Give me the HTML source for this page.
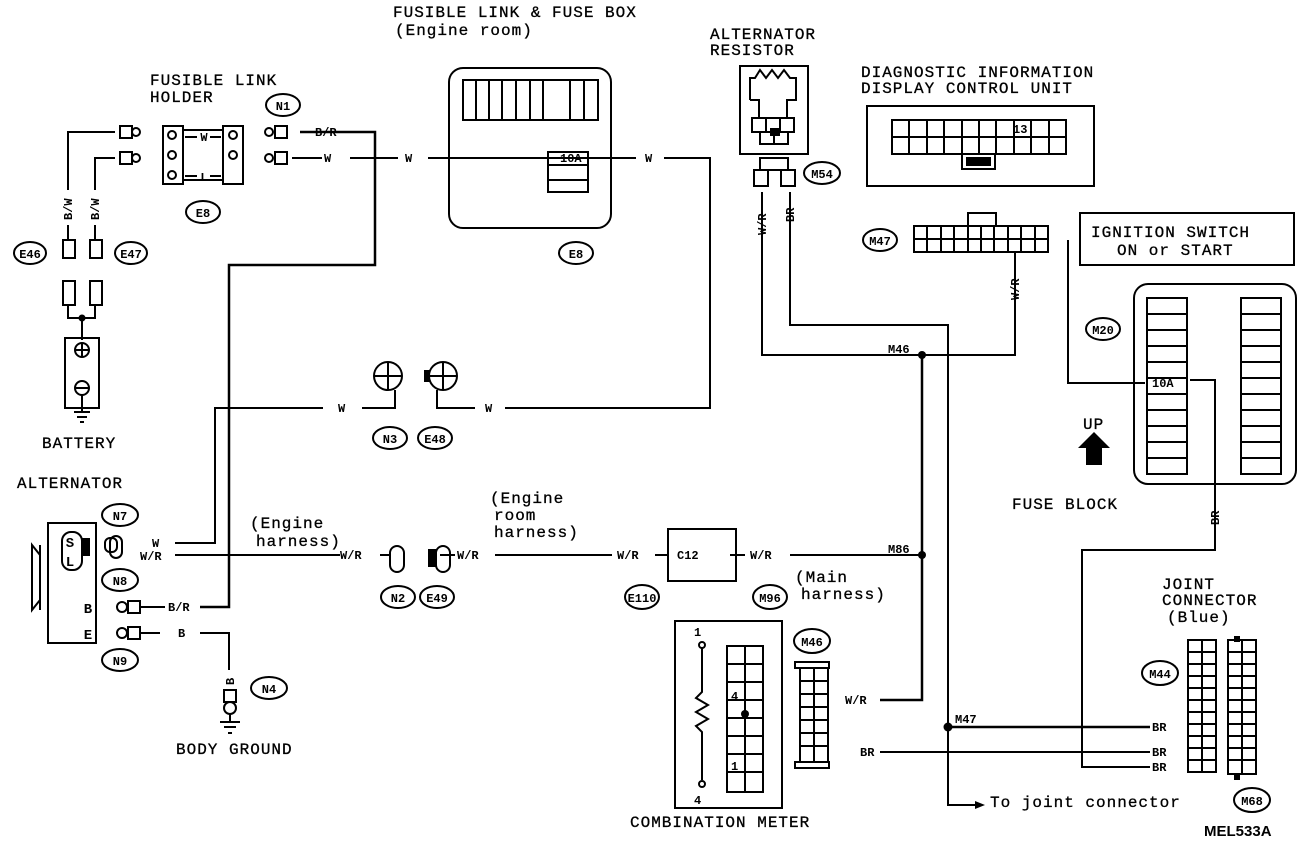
<!DOCTYPE html>
<html><head><meta charset="utf-8"><style>
html,body{margin:0;padding:0;background:#fff}
svg{display:block}
text{font-family:"Liberation Mono",monospace;fill:#000}
.t{font-size:16px;letter-spacing:1px;stroke:#000;stroke-width:0.3}
.l{font-size:12px;font-weight:bold}
.g{font-size:12px;font-weight:bold;font-family:"Liberation Sans",sans-serif}
</style></head><body>
<svg width="1312" height="842" viewBox="0 0 1312 842" xmlns="http://www.w3.org/2000/svg">
<g fill="none" stroke="#000" stroke-width="2">
<polyline points="300,132 375,132 375,265 229,265 229,607 200,607" stroke-width="2.5"/>
<polyline points="292,158 322,158"/><polyline points="350,158 398,158"/><polyline points="428,158 636,158"/><polyline points="664,158 710,158 710,408 505,408"/>
<polyline points="475,408 437,408 437,390"/>
<polyline points="395,390 395,408 362,408"/><polyline points="323,408 215,408 215,543 175,543"/>
<polyline points="175,555 340,555"/><polyline points="380,555 390,555"/><polyline points="440,555 455,555"/><polyline points="495,555 612,555"/>
<polyline points="655,555 668,555"/><polyline points="730,555 745,555"/><polyline points="790,555 922,555"/>
<polyline points="922,355 922,700 880,700" stroke-width="2.5"/>
<polyline points="762,192 762,355 922,355"/><polyline points="790,192 790,325 948,325 948,805 975,805"/>
<polyline points="1015,252 1015,355 922,355"/>
<polyline points="948,727 1150,727" stroke-width="2.5"/>
<polyline points="880,752 1150,752"/>
<polyline points="1150,767 1082,767 1082,550 1215,550 1215,380 1190,380"/>
<polyline points="1068,240 1068,383 1145,383"/>
<polyline points="140,607 165,607"/><polyline points="140,633 160,633"/><polyline points="200,633 229,633 229,670"/>
<polyline points="115,132 68,132 68,190"/><polyline points="68,225 68,240"/>
<polyline points="115,158 95,158 95,190"/><polyline points="95,225 95,240"/>
<polyline points="68,305 68,318 95,318 95,305"/><polyline points="82,318 82,340"/>
<rect x="65" y="338" width="34" height="70"/>
<circle cx="82" cy="350" r="7"/><line x1="75" y1="350" x2="89" y2="350"/><line x1="82" y1="343" x2="82" y2="357"/>
<circle cx="82" cy="388" r="7"/><line x1="75" y1="388" x2="89" y2="388"/>
<line x1="82" y1="395" x2="82" y2="412"/><line x1="74" y1="412" x2="90" y2="412"/><line x1="77" y1="417" x2="87" y2="417"/><line x1="80" y1="422" x2="84" y2="422"/>
<rect x="63" y="240" width="12" height="18"/><rect x="90" y="240" width="12" height="18"/>
<rect x="63" y="281" width="12" height="24"/><rect x="90" y="281" width="12" height="24"/>
<rect x="163" y="126" width="20" height="58"/><rect x="223" y="126" width="20" height="58"/>
<line x1="183" y1="130" x2="223" y2="130"/><line x1="183" y1="180" x2="223" y2="180"/>
<line x1="185" y1="137" x2="197" y2="137"/><line x1="210" y1="137" x2="221" y2="137"/>
<line x1="185" y1="176" x2="197" y2="176"/><line x1="210" y1="176" x2="221" y2="176"/>
<circle cx="172" cy="135" r="4"/><circle cx="172" cy="155" r="4"/><circle cx="172" cy="175" r="4"/><circle cx="233" cy="135" r="4"/><circle cx="233" cy="155" r="4"/>
<rect x="120" y="126" width="12" height="12"/><rect x="120" y="152" width="12" height="12"/>
<circle cx="136" cy="132" r="4"/><circle cx="136" cy="158" r="4"/>
<rect x="275" y="126" width="12" height="12"/><rect x="275" y="152" width="12" height="12"/>
<circle cx="269" cy="132" r="4"/><circle cx="269" cy="158" r="4"/>
<rect x="449" y="68" width="162" height="160" rx="14"/>
<rect x="463" y="80" width="135" height="40"/>
<line x1="476" y1="80" x2="476" y2="120"/><line x1="489" y1="80" x2="489" y2="120"/><line x1="502" y1="80" x2="502" y2="120"/><line x1="516" y1="80" x2="516" y2="120"/><line x1="530" y1="80" x2="530" y2="120"/><line x1="543" y1="80" x2="543" y2="120"/><line x1="570" y1="80" x2="570" y2="120"/><line x1="584" y1="80" x2="584" y2="120"/>
<rect x="548" y="152" width="40" height="40"/><line x1="548" y1="165" x2="588" y2="165"/><line x1="548" y1="180" x2="588" y2="180"/>
<rect x="740" y="66" width="68" height="88"/>
<polyline points="750,100 750,78 755,78 760,70 766,78 772,70 778,78 784,70 790,78 796,78 796,100 787,100 787,118 759,118 759,100 750,100"/>
<rect x="752" y="118" width="14" height="14"/><rect x="780" y="118" width="14" height="14"/><rect x="760" y="132" width="14" height="12"/><rect x="774" y="132" width="14" height="12"/>
<rect x="760" y="158" width="28" height="12"/><rect x="754" y="170" width="14" height="16"/><rect x="781" y="170" width="14" height="16"/>
<rect x="867" y="106" width="227" height="80"/>
<rect x="892" y="120" width="174" height="34"/><line x1="892" y1="137" x2="1066" y2="137"/>
<path d="M909 120v34M927 120v34M944 120v34M962 120v34M979 120v34M996 120v34M1014 120v34M1031 120v34M1049 120v34"/>
<rect x="962" y="154" width="33" height="15"/>
<rect x="914" y="226" width="134" height="26"/><line x1="914" y1="239" x2="1048" y2="239"/>
<path d="M927 226v26M941 226v26M954 226v26M968 226v26M981 226v26M994 226v26M1008 226v26M1021 226v26M1035 226v26"/>
<rect x="968" y="213" width="28" height="13"/>
<rect x="1080" y="213" width="214" height="52"/>
<rect x="1134" y="284" width="162" height="200" rx="14"/>
<rect x="1147" y="298" width="40" height="176"/><rect x="1241" y="298" width="40" height="176"/>
<path d="M1147 314h40M1147 330h40M1147 346h40M1147 362h40M1147 378h40M1147 394h40M1147 410h40M1147 426h40M1147 442h40M1147 458h40M1241 314h40M1241 330h40M1241 346h40M1241 362h40M1241 378h40M1241 394h40M1241 410h40M1241 426h40M1241 442h40M1241 458h40"/>
<rect x="668" y="529" width="68" height="52"/>
<rect x="48" y="523" width="48" height="120"/>
<polyline points="40,555 32,545 32,610 40,600"/><polyline points="40,545 40,610"/>
<rect x="62" y="532" width="20" height="38" rx="9"/>
<rect x="105" y="538" width="12" height="14" rx="5"/><rect x="110" y="536" width="12" height="22" rx="6"/>
<circle cx="122" cy="607" r="5"/><rect x="128" y="601" width="12" height="12"/>
<circle cx="122" cy="633" r="5"/><rect x="128" y="627" width="12" height="12"/>
<rect x="224" y="690" width="12" height="12"/><circle cx="230" cy="708" r="6"/>
<line x1="230" y1="714" x2="230" y2="722"/><line x1="220" y1="722" x2="240" y2="722"/><line x1="224" y1="727" x2="236" y2="727"/><line x1="228" y1="733" x2="232" y2="733"/>
<circle cx="388" cy="376" r="14"/><line x1="374" y1="376" x2="402" y2="376"/><line x1="388" y1="362" x2="388" y2="390"/>
<circle cx="443" cy="376" r="14"/><line x1="429" y1="376" x2="457" y2="376"/><line x1="443" y1="362" x2="443" y2="390"/>
<rect x="390" y="546" width="14" height="26" rx="7"/><rect x="436" y="546" width="14" height="26" rx="7"/>
<rect x="675" y="621" width="107" height="187"/>
<rect x="727" y="646" width="36" height="146"/><line x1="745" y1="646" x2="745" y2="792"/>
<path d="M727 664h36M727 682h36M727 700h36M727 718h36M727 736h36M727 754h36M727 772h36"/>
<polyline points="702,648 702,692 696,698 708,705 696,712 708,719 696,726 702,732 702,780"/>
<circle cx="702" cy="645" r="3"/><circle cx="702" cy="784" r="3"/>
<rect x="800" y="668" width="28" height="94"/><line x1="814" y1="668" x2="814" y2="762"/>
<path d="M800 681h28M800 694h28M800 707h28M800 720h28M800 733h28M800 746h28"/>
<rect x="795" y="662" width="34" height="6"/><rect x="795" y="762" width="34" height="6"/>
<rect x="1188" y="640" width="28" height="132"/><line x1="1202" y1="640" x2="1202" y2="772"/>
<rect x="1228" y="640" width="28" height="134"/><line x1="1242" y1="640" x2="1242" y2="774"/>
<path d="M1188 652h28M1188 664h28M1188 676h28M1188 688h28M1188 700h28M1188 712h28M1188 724h28M1188 736h28M1188 748h28M1188 760h28M1228 652h28M1228 664h28M1228 676h28M1228 688h28M1228 700h28M1228 712h28M1228 724h28M1228 736h28M1228 748h28M1228 760h28"/>
<ellipse cx="283" cy="105" rx="17" ry="11"/><ellipse cx="203" cy="212" rx="17" ry="11"/>
<ellipse cx="30" cy="253" rx="16" ry="11"/><ellipse cx="131" cy="253" rx="16" ry="11"/>
<ellipse cx="576" cy="253" rx="17" ry="11"/><ellipse cx="822" cy="173" rx="18" ry="11"/>
<ellipse cx="880" cy="240" rx="17" ry="11"/><ellipse cx="1103" cy="329" rx="17" ry="11"/>
<ellipse cx="390" cy="438" rx="17" ry="11"/><ellipse cx="435" cy="438" rx="17" ry="11"/>
<ellipse cx="120" cy="515" rx="18" ry="11"/><ellipse cx="120" cy="580" rx="18" ry="11"/>
<ellipse cx="120" cy="660" rx="18" ry="11"/><ellipse cx="269" cy="688" rx="18" ry="11"/>
<ellipse cx="398" cy="597" rx="17" ry="11"/><ellipse cx="437" cy="597" rx="17" ry="11"/>
<ellipse cx="642" cy="597" rx="17" ry="12"/><ellipse cx="770" cy="597" rx="17" ry="12"/>
<ellipse cx="812" cy="641" rx="18" ry="12"/><ellipse cx="1160" cy="673" rx="18" ry="12"/>
<ellipse cx="1252" cy="800" rx="18" ry="12"/>
</g>
<g fill="#000">
<circle cx="82" cy="318" r="3.5"/><circle cx="922" cy="355" r="4"/><circle cx="922" cy="555" r="4"/><circle cx="948" cy="727" r="4.5"/>
<rect x="770" y="128" width="10" height="8"/><rect x="966" y="157" width="25" height="9"/>
<polygon points="1078,448 1094,432 1110,448 1102,448 1102,465 1086,465 1086,448"/>
<polygon points="975,801 985,805 975,809"/>
<rect x="82" y="538" width="8" height="18"/><rect x="1234" y="636" width="6" height="6"/><rect x="1234" y="774" width="6" height="6"/>
<circle cx="745" cy="714" r="4"/><rect x="424" y="370" width="6" height="12"/><rect x="428" y="549" width="8" height="18"/>
</g>
<text class="t" x="393" y="17">FUSIBLE LINK &amp; FUSE BOX</text>
<text class="t" x="395" y="35">(Engine room)</text>
<text class="t" x="150" y="85">FUSIBLE LINK</text><text class="t" x="150" y="102">HOLDER</text>
<text class="t" x="710" y="39">ALTERNATOR</text><text class="t" x="710" y="55">RESISTOR</text>
<text class="t" x="861" y="77">DIAGNOSTIC INFORMATION</text><text class="t" x="861" y="93">DISPLAY CONTROL UNIT</text>
<text class="t" x="1091" y="237">IGNITION SWITCH</text><text class="t" x="1117" y="255">ON or START</text>
<text class="t" x="42" y="448">BATTERY</text>
<text class="t" x="17" y="488">ALTERNATOR</text>
<text class="t" x="176" y="754">BODY GROUND</text>
<text class="t" x="1012" y="509">FUSE BLOCK</text>
<text class="t" x="1083" y="429">UP</text>
<text class="t" x="1162" y="589">JOINT</text><text class="t" x="1162" y="605">CONNECTOR</text><text class="t" x="1167" y="622">(Blue)</text>
<text class="t" x="630" y="827">COMBINATION METER</text>
<text class="t" x="990" y="807">To joint connector</text>
<text x="1204" y="836" style="font-family:'Liberation Sans',sans-serif;font-size:15px;font-weight:bold">MEL533A</text>
<text class="t" x="250" y="528">(Engine</text><text class="t" x="256" y="546">harness)</text>
<text class="t" x="490" y="503">(Engine</text><text class="t" x="494" y="520">room</text><text class="t" x="494" y="537">harness)</text>
<text class="t" x="795" y="582">(Main</text><text class="t" x="801" y="599">harness)</text>
<g class="l">
<text x="315" y="136">B/R</text><text x="324" y="162">W</text><text x="405" y="162">W</text><text x="645" y="162">W</text>
<text x="338" y="412">W</text><text x="485" y="412">W</text>
<text x="152" y="547">W</text><text x="140" y="560">W/R</text><text x="340" y="559">W/R</text><text x="457" y="559">W/R</text>
<text x="617" y="559">W/R</text><text x="750" y="559">W/R</text><text x="168" y="611">B/R</text><text x="178" y="637">B</text>
<text x="845" y="704">W/R</text><text x="860" y="756">BR</text>
<text x="1152" y="731">BR</text><text x="1152" y="756">BR</text><text x="1152" y="771">BR</text>
<text x="888" y="553">M86</text><text x="888" y="353">M46</text><text x="955" y="723">M47</text>
<text x="560" y="162">10A</text><text x="1152" y="387">10A</text><text x="677" y="559">C12</text>
<text x="1013" y="133">13</text>
<text x="694" y="636">1</text><text x="694" y="804">4</text><text x="731" y="700">4</text><text x="731" y="770">1</text>
</g>
<g class="l">
<text transform="translate(72,220) rotate(-90)">B/W</text><text transform="translate(99,220) rotate(-90)">B/W</text>
<text transform="translate(766,235) rotate(-90)">W/R</text><text transform="translate(794,222) rotate(-90)">BR</text>
<text transform="translate(1019,300) rotate(-90)">W/R</text><text transform="translate(1219,525) rotate(-90)">BR</text>
<text transform="translate(234,685) rotate(-90)">B</text>
</g>
<g class="g" text-anchor="middle">
<text x="283" y="110">N1</text><text x="203" y="217">E8</text><text x="30" y="258">E46</text><text x="131" y="258">E47</text>
<text x="576" y="258">E8</text><text x="822" y="178">M54</text><text x="880" y="245">M47</text><text x="1103" y="334">M20</text>
<text x="390" y="443">N3</text><text x="435" y="443">E48</text><text x="120" y="520">N7</text><text x="120" y="585">N8</text>
<text x="120" y="665">N9</text><text x="269" y="693">N4</text><text x="398" y="602">N2</text><text x="437" y="602">E49</text>
<text x="642" y="602">E110</text><text x="770" y="602">M96</text><text x="812" y="646">M46</text><text x="1160" y="678">M44</text><text x="1252" y="805">M68</text>
<text x="70" y="547" style="font-size:14px">S</text><text x="70" y="566" style="font-size:14px">L</text>
<text x="88" y="613" style="font-size:14px">B</text><text x="88" y="639" style="font-size:14px">E</text>
<text x="204" y="141">W</text><text x="204" y="181">L</text>
</g>
</svg>
</body></html>
